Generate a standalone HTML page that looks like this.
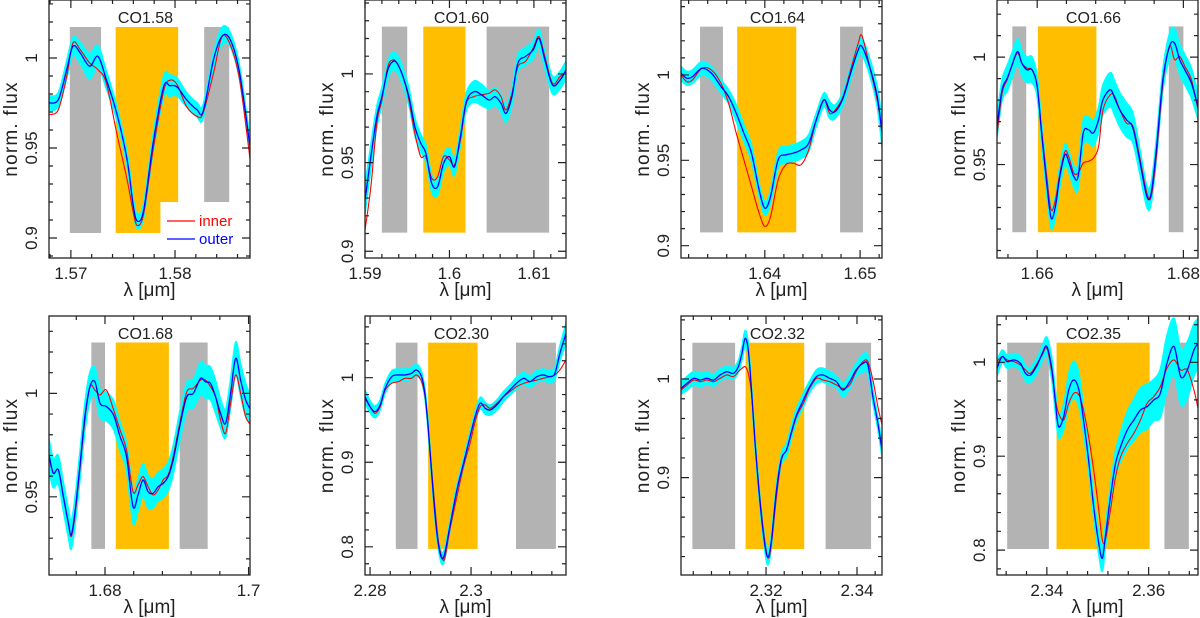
<!DOCTYPE html>
<html><head><meta charset="utf-8"><style>
html,body{margin:0;padding:0;background:#fff;}
svg{display:block;font-family:"Liberation Sans",sans-serif;}
</style></head><body>
<svg id="fig" width="1200" height="618" viewBox="0 0 1200 618" xmlns="http://www.w3.org/2000/svg"></svg>
<script>
// ---------- Panel 1: CO1.58 ----------
const p1Wave=[1.5679,1.5688,1.5696,1.5702,1.5709,1.5718,1.5726,1.5734,1.5744,1.5754,1.5760,1.5764,1.5770,1.5779,1.5789,1.5795,1.5802,1.5811,1.5821,1.5827,1.5837,1.5845,1.5853,1.5862,1.5872];
const p1Inner=[0.9685,0.9713,0.9898,1.0083,1.0046,0.9972,0.9935,0.9861,0.9583,0.9324,0.9139,0.9069,0.9139,0.9491,0.9815,0.9876,0.9852,0.9731,0.9676,0.9694,0.9917,1.0117,1.0074,0.9880,0.9439];
const p1Outer=[0.9750,0.9769,0.9935,1.0065,1.0028,0.9954,1.0009,0.9880,0.9694,0.9435,0.9176,0.9093,0.9157,0.9528,0.9839,0.9846,0.9839,0.9769,0.9713,0.9704,0.9991,1.0120,1.0102,0.9917,0.9509];
const p1Err=[0.004,0.004,0.005,0.005,0.006,0.007,0.006,0.005,0.004,0.004,0.004,0.004,0.004,0.005,0.006,0.006,0.005,0.004,0.004,0.004,0.004,0.005,0.004,0.004,0.004];
const p1Gray=[[1.5699,1.5729,0.9028,1.0172],[1.5828,1.5852,0.920,1.0172]];
const p1Orange=[[1.5743,1.5786,0.9028,1.0172],[1.5785,1.5803,0.920,1.0172]];
const p1XTicks=[1.57,1.58];
const p1YTicks=[0.9,0.95,1];
// ---------- Panel 2: CO1.60 ----------
const p2Wave=[1.5900,1.5907,1.5914,1.5920,1.5927,1.5933,1.5938,1.5945,1.5952,1.5959,1.5966,1.5972,1.5979,1.5986,1.5993,1.6000,1.6006,1.6013,1.6020,1.6029,1.6038,1.6047,1.6054,1.6061,1.6067,1.6074,1.6081,1.6090,1.6099,1.6106,1.6113,1.6122,1.6131,1.6138];
const p2Inner=[0.9120,0.9365,0.9722,0.9853,1.0041,1.0079,1.0060,0.9985,0.9853,0.9665,0.9534,0.9534,0.9412,0.9421,0.9534,0.9515,0.9487,0.9628,0.9835,0.9872,0.9882,0.9891,0.9910,0.9872,0.9797,0.9891,1.0041,1.0070,1.0145,1.0211,1.0098,0.9947,0.9985,1.0013];
const p2Outer=[0.9289,0.9534,0.9759,0.9872,1.0023,1.0070,1.0060,0.9985,0.9872,0.9703,0.9609,0.9553,0.9383,0.9365,0.9496,0.9534,0.9477,0.9647,0.9844,0.9900,0.9882,0.9853,0.9872,0.9835,0.9778,0.9872,1.0060,1.0098,1.0135,1.0201,1.0079,0.9938,0.9966,1.0023];
const p2Err=[0.008,0.007,0.006,0.005,0.005,0.005,0.005,0.005,0.005,0.005,0.005,0.005,0.005,0.005,0.005,0.005,0.005,0.005,0.005,0.006,0.006,0.005,0.005,0.005,0.005,0.005,0.005,0.005,0.005,0.005,0.005,0.005,0.005,0.005];
const p2Gray=[[1.5920,1.5950,0.9105,1.0267],[1.6044,1.6118,0.9105,1.0267]];
const p2Orange=[[1.5969,1.6019,0.9105,1.0267]];
const p2XTicks=[1.59,1.6,1.61];
const p2YTicks=[0.9,0.95,1];
// ---------- Panel 3: CO1.64 ----------
const p3Wave=[1.6312,1.6318,1.6324,1.6334,1.6344,1.6354,1.6362,1.6370,1.6378,1.6386,1.6394,1.6400,1.6406,1.6414,1.6422,1.6430,1.6438,1.6446,1.6454,1.6462,1.6468,1.6474,1.6482,1.6490,1.6498,1.6502,1.6510,1.6518,1.6523];
const p3Inner=[1.0000,0.9961,0.9971,1.0039,1.0029,0.9951,0.9834,0.9659,0.9503,0.9347,0.9191,0.9113,0.9171,0.9386,0.9474,0.9483,0.9474,0.9561,0.9737,0.9854,0.9776,0.9795,0.9873,1.0029,1.0185,1.0228,1.0049,0.9854,0.9678];
const p3Outer=[1.0010,0.9981,0.9990,1.0039,1.0010,0.9932,0.9873,0.9776,0.9659,0.9542,0.9327,0.9220,0.9288,0.9503,0.9532,0.9542,0.9561,0.9600,0.9737,0.9854,0.9795,0.9786,0.9863,1.0010,1.0146,1.0166,1.0049,0.9873,0.9659];
const p3Err=[0.004,0.004,0.004,0.004,0.004,0.004,0.004,0.005,0.005,0.005,0.004,0.004,0.004,0.005,0.005,0.005,0.005,0.005,0.004,0.004,0.005,0.004,0.004,0.004,0.004,0.005,0.005,0.006,0.008];
const p3Gray=[[1.6332,1.6356,0.9078,1.0283],[1.6479,1.6503,0.9078,1.0283]];
const p3Orange=[[1.6371,1.6433,0.9078,1.0283]];
const p3XTicks=[1.64,1.65];
const p3YTicks=[0.9,0.95,1];
// ---------- Panel 4: CO1.66 ----------
const p4Wave=[1.6545,1.6552,1.6559,1.6565,1.6573,1.6579,1.6586,1.6593,1.6600,1.6606,1.6613,1.6619,1.6625,1.6631,1.6638,1.6643,1.6650,1.6656,1.6663,1.6670,1.6677,1.6684,1.6690,1.6700,1.6706,1.6713,1.6722,1.6731,1.6740,1.6750,1.6756,1.6763,1.6772,1.6781,1.6788,1.6795,1.6802,1.6811,1.6820];
const p4Inner=[0.9639,0.9833,0.9895,0.9957,1.0019,0.9972,0.9949,0.9941,0.9864,0.9662,0.9445,0.9290,0.9337,0.9461,0.9561,0.9538,0.9461,0.9461,0.9507,0.9515,0.9530,0.9585,0.9755,0.9825,0.9817,0.9755,0.9693,0.9678,0.9538,0.9368,0.9352,0.9538,0.9879,1.0050,0.9988,1.0003,0.9957,0.9895,0.9755];
const p4Outer=[0.9678,0.9848,0.9902,0.9957,1.0026,0.9972,0.9941,0.9941,0.9864,0.9647,0.9414,0.9251,0.9306,0.9445,0.9546,0.9515,0.9445,0.9445,0.9647,0.9662,0.9647,0.9709,0.9802,0.9848,0.9809,0.9755,0.9709,0.9670,0.9523,0.9352,0.9368,0.9569,0.9895,1.0050,1.0065,0.9988,0.9941,0.9879,0.9771];
const p4Err=[0.005,0.005,0.006,0.006,0.006,0.006,0.006,0.006,0.005,0.005,0.005,0.005,0.005,0.005,0.005,0.005,0.005,0.006,0.006,0.006,0.006,0.006,0.007,0.008,0.008,0.008,0.008,0.007,0.006,0.005,0.005,0.005,0.005,0.006,0.007,0.007,0.007,0.007,0.006];
const p4Gray=[[1.6566,1.6585,0.9185,1.0143],[1.6780,1.6800,0.9185,1.0143]];
const p4Orange=[[1.6601,1.6681,0.9185,1.0143]];
const p4XTicks=[1.66,1.68];
const p4YTicks=[0.95,1];
// ---------- Panel 5: CO1.68 ----------
const p5Wave=[1.6722,1.6728,1.6735,1.6742,1.6749,1.6753,1.6758,1.6765,1.6772,1.6779,1.6786,1.6793,1.6802,1.6812,1.6821,1.6830,1.6839,1.6846,1.6853,1.6860,1.6867,1.6874,1.6881,1.6888,1.6895,1.6905,1.6914,1.6923,1.6933,1.6940,1.6947,1.6954,1.6961,1.6968,1.6975,1.6982,1.6989,1.6996,1.7003];
const p5Inner=[0.9694,0.9614,0.9630,0.9501,0.9372,0.9308,0.9404,0.9630,0.9871,1.0032,1.0016,0.9992,1.0016,0.9920,0.9823,0.9726,0.9525,0.9557,0.9598,0.9549,0.9509,0.9533,0.9581,0.9606,0.9694,0.9871,1.0008,1.0024,1.0064,1.0064,1.0032,0.9984,0.9871,0.9807,0.9952,1.0089,1.0000,0.9887,0.9847];
const p5Outer=[0.9702,0.9614,0.9630,0.9501,0.9372,0.9316,0.9420,0.9646,0.9887,1.0032,1.0056,0.9952,0.9936,0.9895,0.9791,0.9694,0.9453,0.9509,0.9581,0.9525,0.9517,0.9549,0.9565,0.9598,0.9678,0.9855,0.9984,1.0000,1.0072,1.0056,1.0048,0.9984,0.9903,0.9855,1.0000,1.0169,1.0064,0.9968,0.9920];
const p5Err=[0.008,0.007,0.007,0.007,0.007,0.007,0.007,0.007,0.007,0.007,0.007,0.007,0.007,0.007,0.007,0.007,0.008,0.008,0.008,0.008,0.007,0.007,0.007,0.007,0.007,0.007,0.007,0.007,0.008,0.008,0.008,0.008,0.007,0.007,0.007,0.008,0.008,0.008,0.007];
const p5Gray=[[1.6781,1.6800,0.9248,1.0246],[1.6904,1.6943,0.9248,1.0246]];
const p5Orange=[[1.6815,1.6889,0.9248,1.0246]];
const p5XTicks=[1.68,1.7];
const p5YTicks=[0.95,1];
// ---------- Panel 6: CO2.30 ----------
const p6Wave=[2.2790,2.2800,2.2810,2.2820,2.2830,2.2843,2.2856,2.2869,2.2882,2.2892,2.2902,2.2909,2.2915,2.2922,2.2929,2.2935,2.2942,2.2948,2.2958,2.2972,2.2985,2.2998,2.3008,2.3018,2.3028,2.3038,2.3051,2.3064,2.3077,2.3090,2.3104,2.3117,2.3130,2.3143,2.3156,2.3166,2.3176,2.3188];
const p6Inner=[0.9756,0.9657,0.9578,0.9657,0.9854,0.9933,0.9953,0.9992,0.9992,1.0032,0.9953,0.9775,0.9421,0.8909,0.8436,0.8081,0.7884,0.7865,0.8199,0.8593,0.8948,0.9224,0.9480,0.9657,0.9677,0.9638,0.9697,0.9775,0.9835,0.9894,0.9933,0.9953,0.9972,0.9992,1.0012,1.0032,1.0091,1.0209];
const p6Outer=[0.9775,0.9657,0.9598,0.9677,0.9874,1.0012,1.0032,1.0032,1.0051,1.0091,1.0012,0.9795,0.9421,0.8869,0.8357,0.8042,0.7865,0.7924,0.8239,0.8672,0.8987,0.9303,0.9539,0.9697,0.9638,0.9618,0.9677,0.9775,0.9854,0.9933,0.9992,0.9953,1.0012,1.0032,1.0012,1.0051,1.0288,1.0524];
const p6Err=[0.008,0.007,0.007,0.006,0.006,0.007,0.007,0.007,0.007,0.007,0.006,0.006,0.006,0.006,0.006,0.006,0.007,0.007,0.006,0.006,0.006,0.006,0.006,0.007,0.007,0.006,0.006,0.006,0.006,0.007,0.007,0.007,0.007,0.007,0.007,0.007,0.009,0.012];
const p6Gray=[[2.2851,2.2894,0.7975,1.0414],[2.3089,2.3168,0.7975,1.0414]];
const p6Orange=[[2.2915,2.3013,0.7975,1.0414]];
const p6XTicks=[2.28,2.3];
const p6YTicks=[0.8,0.9,1];
// ---------- Panel 7: CO2.32 ----------
const p7Wave=[2.3013,2.3026,2.3041,2.3055,2.3070,2.3085,2.3099,2.3114,2.3128,2.3139,2.3147,2.3154,2.3161,2.3168,2.3176,2.3187,2.3198,2.3205,2.3212,2.3223,2.3234,2.3245,2.3256,2.3267,2.3282,2.3296,2.3311,2.3325,2.3340,2.3355,2.3369,2.3384,2.3398,2.3413,2.3424,2.3435,2.3446,2.3455];
const p7Inner=[0.9888,0.9939,0.9990,0.9973,0.9990,0.9973,1.0007,1.0041,1.0024,1.0074,1.0108,1.0125,1.0057,0.9855,0.9348,0.8773,0.8334,0.8182,0.8334,0.8807,0.9179,0.9280,0.9449,0.9618,0.9753,0.9905,1.0007,0.9990,0.9973,0.9939,0.9905,0.9939,1.0074,1.0176,1.0176,0.9990,0.9719,0.9534];
const p7Outer=[0.9905,0.9956,1.0007,0.9990,1.0007,0.9990,1.0041,1.0074,1.0057,1.0125,1.0260,1.0412,1.0294,0.9888,0.9348,0.8739,0.8300,0.8198,0.8367,0.8874,0.9196,0.9280,0.9466,0.9635,0.9787,0.9922,1.0024,1.0041,1.0007,0.9973,0.9888,0.9973,1.0091,1.0159,1.0142,0.9821,0.9550,0.9280];
const p7Err=[0.006,0.007,0.007,0.007,0.006,0.006,0.006,0.006,0.006,0.006,0.007,0.008,0.007,0.006,0.006,0.006,0.007,0.008,0.007,0.006,0.006,0.007,0.007,0.007,0.007,0.006,0.007,0.007,0.007,0.006,0.007,0.007,0.007,0.009,0.009,0.007,0.006,0.007];
const p7Gray=[[2.3038,2.3132,0.8276,1.0368],[2.3331,2.3431,0.8276,1.0368]];
const p7Orange=[[2.3155,2.3284,0.8276,1.0368]];
const p7XTicks=[2.32,2.34];
const p7YTicks=[0.9,1];
// ---------- Panel 8: CO2.35 ----------
const p8Wave=[2.3302,2.3312,2.3322,2.3335,2.3348,2.3358,2.3368,2.3381,2.3391,2.3400,2.3410,2.3417,2.3423,2.3433,2.3443,2.3453,2.3463,2.3472,2.3482,2.3492,2.3502,2.3509,2.3515,2.3525,2.3535,2.3545,2.3558,2.3571,2.3584,2.3597,2.3610,2.3623,2.3636,2.3650,2.3663,2.3676,2.3689,2.3697];
const p8Inner=[1.0007,1.0060,1.0025,1.0007,0.9972,0.9918,0.9883,0.9989,1.0078,1.0149,0.9883,0.9599,0.9457,0.9386,0.9563,0.9670,0.9652,0.9492,0.9208,0.8853,0.8427,0.8108,0.8108,0.8427,0.8782,0.8995,0.9137,0.9244,0.9386,0.9563,0.9634,0.9741,0.9936,1.0025,0.9918,0.9918,0.9705,0.9510];
const p8Outer=[0.9936,1.0060,1.0007,1.0025,0.9989,0.9883,0.9865,0.9972,1.0096,1.0167,0.9918,0.9563,0.9315,0.9421,0.9705,0.9812,0.9705,0.9386,0.8960,0.8463,0.8072,0.7913,0.8143,0.8569,0.8924,0.9102,0.9279,0.9386,0.9492,0.9528,0.9599,0.9670,0.9989,1.0167,0.9847,0.9918,1.0131,1.0202];
const p8Err=[0.008,0.007,0.007,0.007,0.008,0.008,0.008,0.008,0.008,0.010,0.012,0.012,0.012,0.014,0.018,0.020,0.018,0.014,0.012,0.012,0.012,0.014,0.012,0.012,0.014,0.016,0.020,0.022,0.024,0.024,0.022,0.026,0.030,0.030,0.030,0.030,0.028,0.026];
const p8Gray=[[2.3322,2.3404,0.8012,1.0209],[2.3631,2.3679,0.8012,1.0209]];
const p8Orange=[[2.3419,2.3602,0.8012,1.0209]];
const p8XTicks=[2.34,2.36];
const p8YTicks=[0.8,0.9,1];

// ---------- layout (not data) ----------
const panels=[
 {id:'co158',title:'CO1.58',L:49,T:0,W:201,H:258,x0:1.5679,x1:1.5872,y0:0.8889,y1:1.0322,xm:0.002,ym:0.01,wave:p1Wave,inner:p1Inner,outer:p1Outer,err:p1Err,gray:p1Gray,orange:p1Orange,xt:p1XTicks,yt:p1YTicks,legend:true},
 {id:'co160',title:'CO1.60',L:365,T:0,W:201,H:258,x0:1.5900,x1:1.6138,y0:0.8962,y1:1.0417,xm:0.002,ym:0.01,wave:p2Wave,inner:p2Inner,outer:p2Outer,err:p2Err,gray:p2Gray,orange:p2Orange,xt:p2XTicks,yt:p2YTicks},
 {id:'co164',title:'CO1.64',L:681,T:0,W:201,H:258,x0:1.6312,x1:1.6523,y0:0.8928,y1:1.0439,xm:0.002,ym:0.01,wave:p3Wave,inner:p3Inner,outer:p3Outer,err:p3Err,gray:p3Gray,orange:p3Orange,xt:p3XTicks,yt:p3YTicks},
 {id:'co166',title:'CO1.66',L:997,T:0,W:201,H:258,x0:1.6545,x1:1.6820,y0:0.9065,y1:1.0266,xm:0.004,ym:0.01,wave:p4Wave,inner:p4Inner,outer:p4Outer,err:p4Err,gray:p4Gray,orange:p4Orange,xt:p4XTicks,yt:p4YTicks},
 {id:'co168',title:'CO1.68',L:49,T:316,W:201,H:259,x0:1.6722,x1:1.7002,y0:0.9122,y1:1.0374,xm:0.004,ym:0.01,wave:p5Wave,inner:p5Inner,outer:p5Outer,err:p5Err,gray:p5Gray,orange:p5Orange,xt:p5XTicks,yt:p5YTicks},
 {id:'co230',title:'CO2.30',L:365,T:316,W:201,H:259,x0:2.2790,x1:2.3188,y0:0.7667,y1:1.0729,xm:0.004,ym:0.02,wave:p6Wave,inner:p6Inner,outer:p6Outer,err:p6Err,gray:p6Gray,orange:p6Orange,xt:p6XTicks,yt:p6YTicks},
 {id:'co232',title:'CO2.32',L:681,T:316,W:201,H:259,x0:2.3013,x1:2.3455,y0:0.8013,y1:1.0639,xm:0.004,ym:0.02,wave:p7Wave,inner:p7Inner,outer:p7Outer,err:p7Err,gray:p7Gray,orange:p7Orange,xt:p7XTicks,yt:p7YTicks},
 {id:'co235',title:'CO2.35',L:997,T:316,W:201,H:259,x0:2.3302,x1:2.3697,y0:0.7735,y1:1.0493,xm:0.004,ym:0.02,wave:p8Wave,inner:p8Inner,outer:p8Outer,err:p8Err,gray:p8Gray,orange:p8Orange,xt:p8XTicks,yt:p8YTicks}
];
const NS='http://www.w3.org/2000/svg';
const svg=document.getElementById('fig');
function mk(tag,attrs,parent){const e=document.createElementNS(NS,tag);for(const k in attrs)e.setAttribute(k,attrs[k]);(parent||svg).appendChild(e);return e;}
function smooth(pts){let d='M'+pts[0][0].toFixed(2)+','+pts[0][1].toFixed(2);
 for(let i=0;i<pts.length-1;i++){const p0=pts[Math.max(0,i-1)],p1=pts[i],p2=pts[i+1],p3=pts[Math.min(pts.length-1,i+2)];
 const c1x=p1[0]+(p2[0]-p0[0])/6,c1y=p1[1]+(p2[1]-p0[1])/6,c2x=p2[0]-(p3[0]-p1[0])/6,c2y=p2[1]-(p3[1]-p1[1])/6;
 d+=' C'+c1x.toFixed(2)+','+c1y.toFixed(2)+' '+c2x.toFixed(2)+','+c2y.toFixed(2)+' '+p2[0].toFixed(2)+','+p2[1].toFixed(2);}
 return d;}
function fmt(v){return String(+v.toFixed(4));}
const defs=mk('defs',{});
panels.forEach((p,pi)=>{
 const xs=v=>p.L+(v-p.x0)/(p.x1-p.x0)*p.W;
 const ys=v=>p.T+p.H-(v-p.y0)/(p.y1-p.y0)*p.H;
 const cp=mk('clipPath',{id:'clip'+pi},defs);mk('rect',{x:p.L,y:p.T,width:p.W,height:p.H},cp);
 const g=mk('g',{});
 
 
 const plot=mk('g',{'clip-path':'url(#clip'+pi+')'},g);
 
 
 p.gray.forEach((b,bi)=>{const r=mk('rect',{x:xs(b[0]),y:ys(b[3]),width:xs(b[1])-xs(b[0]),height:ys(b[2])-ys(b[3]),fill:'#b3b3b3'},plot);
  
  });
 p.orange.forEach((b,bi)=>{const r=mk('rect',{x:xs(b[0]),y:ys(b[3]),width:xs(b[1])-xs(b[0]),height:ys(b[2])-ys(b[3]),fill:'#ffbf00'},plot);
  
  });
 const up=p.wave.map((w,i)=>[xs(w),ys(p.outer[i]+p.err[i])]);
 const lo=p.wave.map((w,i)=>[xs(w),ys(p.outer[i]-p.err[i])]).reverse();
 const dUp=smooth(up),dLo=smooth(lo);
 const band=mk('path',{d:dUp+' L'+lo[0][0].toFixed(2)+','+lo[0][1].toFixed(2)+dLo.replace(/^M[^C]*/,' ')+' Z',fill:'#00ffff',stroke:'#00ffff','stroke-width':1.5},plot);
 
 
 const red=mk('path',{d:smooth(p.wave.map((w,i)=>[xs(w),ys(p.inner[i])])),fill:'none',stroke:'#ff0000','stroke-width':1.1},plot);
 
 
 const blue=mk('path',{d:smooth(p.wave.map((w,i)=>[xs(w),ys(p.outer[i])])),fill:'none',stroke:'#0000ff','stroke-width':1.3},plot);
 
 
 const fr=mk('rect',{x:p.L,y:p.T,width:p.W,height:p.H,fill:'none',stroke:'#222','stroke-width':1.3},g);
 
 
 let td='';
 const xstart=Math.ceil(p.x0/p.xm-1e-6);
 for(let k=xstart;k*p.xm<=p.x1+1e-9;k++){const v=k*p.xm,x=xs(v);const major=p.xt.some(t=>Math.abs(t-v)<1e-6);const len=major?8:4;
  td+='M'+x+','+(p.T+p.H)+'v-'+len+'M'+x+','+p.T+'v'+len;}
 const ystart=Math.ceil(p.y0/p.ym-1e-6);
 for(let k=ystart;k*p.ym<=p.y1+1e-9;k++){const v=k*p.ym,y=ys(v);const major=p.yt.some(t=>Math.abs(t-v)<1e-6);const len=major?8:4;
  td+='M'+p.L+','+y+'h'+len+'M'+(p.L+p.W)+','+y+'h-'+len;}
 p.yt.forEach(v=>{const y=ys(v);td+='M'+p.L+','+y+'h8M'+(p.L+p.W)+','+y+'h-8';});
 const tk=mk('path',{d:td,stroke:'#222','stroke-width':1.2,fill:'none'},g);
 
 
 p.xt.forEach(v=>{const t=mk('text',{x:xs(v),y:p.T+p.H+21,'text-anchor':'middle','font-size':17,fill:'#222'},g);t.textContent=fmt(v);
  
  });
 p.yt.forEach(v=>{const x=p.L-12,y=ys(v);const t=mk('text',{x:x,y:y,transform:'rotate(-90 '+x+' '+y+')','text-anchor':'middle','font-size':17,fill:'#222'},g);t.textContent=fmt(v);
  
  });
 const xl=mk('text',{x:p.L+p.W/2,y:p.T+p.H+38,'text-anchor':'middle','font-size':19,fill:'#222'},g);xl.textContent='λ [μm]';
 
 
 const yx=p.L-32,yy=p.T+p.H/2;
 const yl=mk('text',{x:yx,y:yy,transform:'rotate(-90 '+yx+' '+yy+')','text-anchor':'middle','font-size':19,'letter-spacing':1.2,fill:'#222'},g);yl.textContent='norm. flux';
 
 
 const ti=mk('text',{x:p.L+p.W/2-4,y:p.T+23,'text-anchor':'middle','font-size':16,fill:'#222'},g);ti.textContent=p.title;
 
 
 if(p.legend){
  const lg=mk('g',{},g);
  
  
  mk('line',{x1:167,x2:195,y1:221,y2:221,stroke:'#ff0000','stroke-width':1.2},lg);
  const a=mk('text',{x:199,y:226,'font-size':15,fill:'#ff0000'},lg);a.textContent='inner';
  
  
  mk('line',{x1:167,x2:195,y1:239,y2:239,stroke:'#0000ff','stroke-width':1.2},lg);
  const b=mk('text',{x:199,y:244,'font-size':15,fill:'#0000ff'},lg);b.textContent='outer';
  
  
 }
});
</script>
</body></html>
